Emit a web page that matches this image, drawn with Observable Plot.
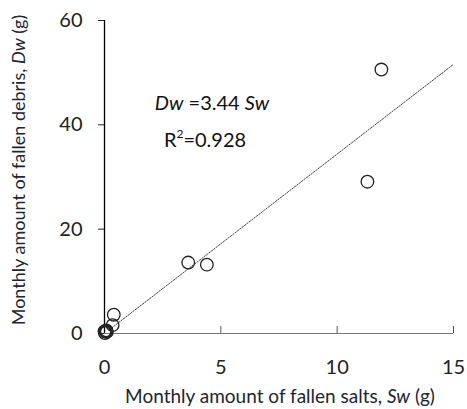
<!DOCTYPE html>
<html><head><meta charset="utf-8">
<script src="https://cdn.jsdelivr.net/npm/d3@7"></script>
<script src="https://cdn.jsdelivr.net/npm/@observablehq/plot@0.6"></script>
<style>
body{margin:0;background:#fff;}
svg{font-family:Lato,sans-serif;}
</style></head><body><div id="chart"></div>
<script>
const salts = [11.9, 11.3, 3.6, 4.4, 0.4, 0.35, 0.05, 0.1, 0.02, 0.08, 0.0];
const debris = [50.6, 29.1, 13.6, 13.2, 3.6, 1.6, 0.5, 0.3, 0.1, 0.6, 0.4];
const slope = 3.44;
const fitX = [0.2, 15];
const xTicks = [0, 5, 10, 15];
const yTicks = [0, 20, 40, 60];

const pts = salts.map((s, i) => ({s, d: debris[i]}));
const fit = fitX.map(x => ({x, y: slope * x}));

const chart = Plot.plot({
  width: 467, height: 409,
  marginLeft: 104, marginRight: 14, marginTop: 20, marginBottom: 76,
  style: {fontSize: "20px", color: "#222", fontFamily: "Lato, sans-serif"},
  x: {domain: [0, 15], ticks: xTicks, label: null},
  y: {domain: [0, 60], ticks: yTicks, label: null},
  marks: [
    Plot.ruleY([0], {stroke: "#777", strokeWidth: 1.2}),
    Plot.axisX({ticks: xTicks, tickSize: -7, tickPadding: 33, stroke: "#555", fontSize: 20, label: null}),
    Plot.axisY({ticks: yTicks, tickSize: 6, tickPadding: 16, fontSize: 20, label: null}),
    Plot.ruleX([0], {stroke: "#000", strokeWidth: 1.3}),
    Plot.line(fit, {x: "x", y: "y", stroke: "#444", strokeWidth: 1, strokeDasharray: "1.6,1.4"}),
    Plot.dot(pts, {x: "s", y: "d", r: 6.3, stroke: "#222", strokeWidth: 1.3, fill: "none"})
  ]
});
document.getElementById("chart").append(chart);

// annotations and axis titles as real text in the svg
const svg = d3.select(chart);
const eq = svg.append("text").attr("x", 212).attr("y", 110).attr("text-anchor", "middle")
  .attr("font-size", 20).attr("fill", "#111");
eq.append("tspan").attr("font-style", "italic").text("Dw");
eq.append("tspan").text("\u00a0=3.44\u00a0");
eq.append("tspan").attr("font-style", "italic").text("Sw");
const r2 = svg.append("text").attr("x", 205).attr("y", 147).attr("text-anchor", "middle")
  .attr("font-size", 20).attr("fill", "#111");
r2.append("tspan").text("R");
r2.append("tspan").attr("font-size", 12).attr("dy", -9).text("2");
r2.append("tspan").attr("dy", 9).text("=0.928");

const xl = svg.append("text").attr("x", 280).attr("y", 403).attr("text-anchor", "middle")
  .attr("font-size", 19).attr("fill", "#1e2533");
xl.append("tspan").text("Monthly amount of fallen salts, ");
xl.append("tspan").attr("font-style", "italic").text("Sw");
xl.append("tspan").text(" (g)");

const yl = svg.append("text").attr("transform", "translate(25,170) rotate(-90)").attr("text-anchor", "middle")
  .attr("font-size", 18).attr("fill", "#1e2533");
yl.append("tspan").text("Monthly amount of fallen debris, ");
yl.append("tspan").attr("font-style", "italic").text("Dw");
yl.append("tspan").text(" (g)");
</script></body></html>
